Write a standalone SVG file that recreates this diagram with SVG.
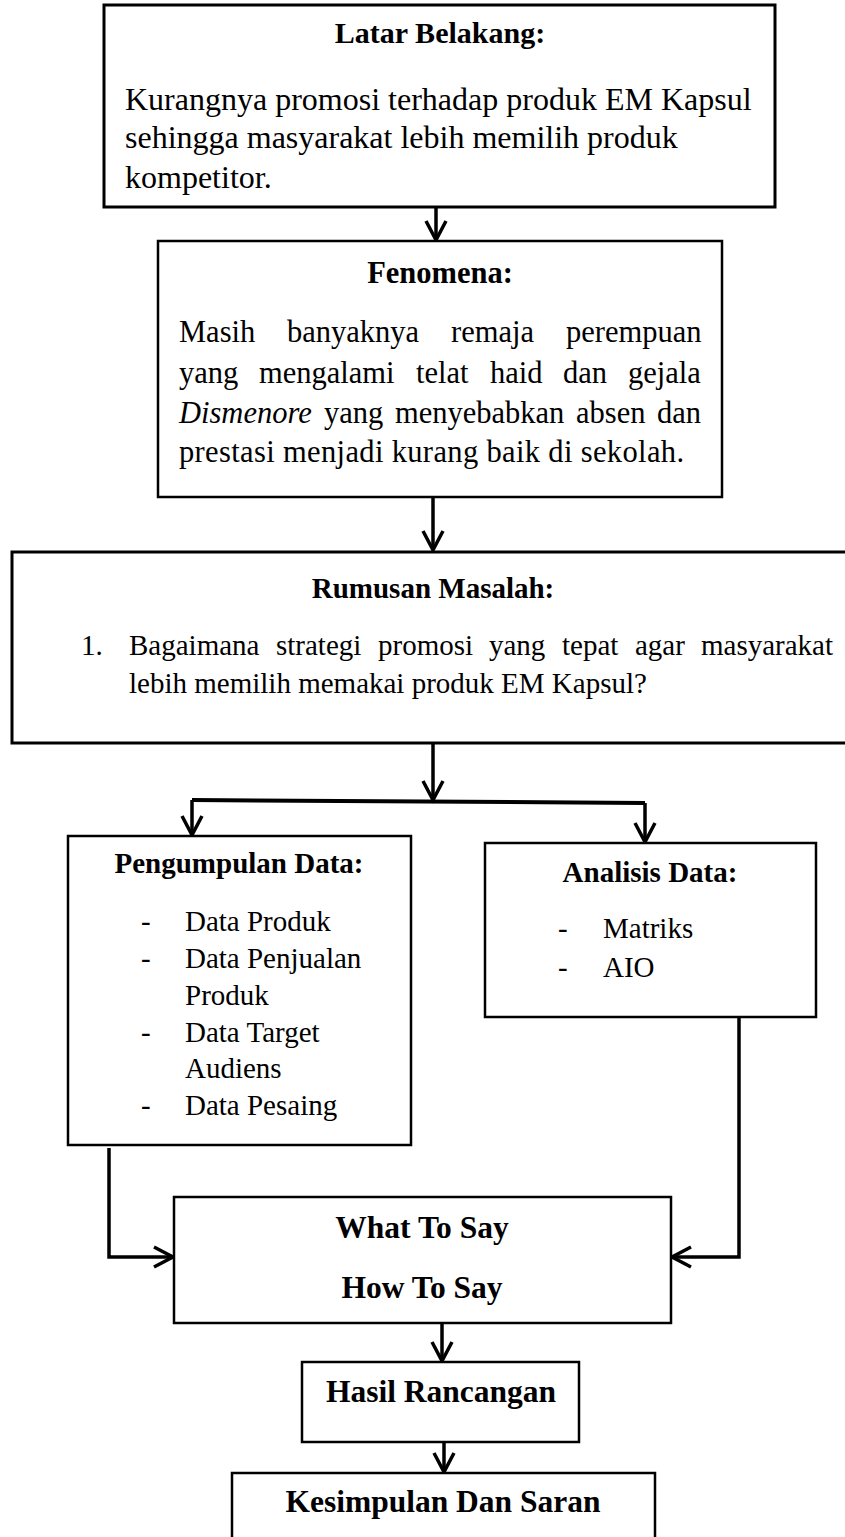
<svg xmlns="http://www.w3.org/2000/svg" width="845" height="1537" viewBox="0 0 845 1537">
<style>
.box{fill:#fff;stroke:#000;stroke-width:2.5}
.t{font-family:"Liberation Serif","Times New Roman",serif;font-size:29px;fill:#000}
.b{font-weight:bold;text-anchor:middle}
.big{font-size:31.5px}
.conn{stroke:#000;stroke-width:3.5;fill:none}
</style>
<defs>
<marker id="ah" viewBox="-22 -12 24 24" refX="0" refY="0" markerWidth="24" markerHeight="24" markerUnits="userSpaceOnUse" orient="auto" overflow="visible">
<path d="M-19,-10 L0,0 L-19,10" fill="none" stroke="#000" stroke-width="3.5"/>
</marker>
</defs>
<rect width="845" height="1537" fill="#fff"/>

<g id="connectors">
<line class="conn" x1="436" y1="207" x2="436" y2="240" marker-end="url(#ah)"/>
<line class="conn" x1="433" y1="497" x2="433" y2="550" marker-end="url(#ah)"/>
<line class="conn" x1="433" y1="743" x2="433" y2="800" marker-end="url(#ah)"/>
<polyline class="conn" points="192,800 645,803" style="stroke-width:4"/>
<line class="conn" x1="192" y1="800" x2="192" y2="835" marker-end="url(#ah)"/>
<line class="conn" x1="645" y1="803" x2="645" y2="842" marker-end="url(#ah)"/>
<polyline class="conn" points="109,1148 109,1257 173,1257" marker-end="url(#ah)"/>
<polyline class="conn" points="739,1011 739,1257 672,1257" marker-end="url(#ah)"/>
<line class="conn" x1="442" y1="1323" x2="442" y2="1361" marker-end="url(#ah)"/>
<line class="conn" x1="444" y1="1442" x2="444" y2="1472" marker-end="url(#ah)"/>
</g>

<g id="latar">
<rect class="box" x="104" y="5" width="671" height="202" style="stroke-width:3"/>
<text class="t b" style="font-size:30px" x="440" y="43">Latar Belakang:</text>
<text class="t" style="font-size:32px" x="125" y="110">Kurangnya promosi terhadap produk EM Kapsul</text>
<text class="t" style="font-size:32px" x="125" y="148">sehingga masyarakat lebih memilih produk</text>
<text class="t" style="font-size:32px" x="125" y="188">kompetitor.</text>
</g>

<g id="fenomena">
<rect class="box" x="158" y="241" width="564" height="256"/>
<text class="t b" style="font-size:30.5px" x="440" y="283">Fenomena:</text>
<g class="t" style="font-size:30.5px">
<text y="342"><tspan x="179">Masih</tspan><tspan x="287">banyaknya</tspan><tspan x="451">remaja</tspan><tspan x="566">perempuan</tspan></text>
<text y="383"><tspan x="179">yang</tspan><tspan x="259">mengalami</tspan><tspan x="416">telat</tspan><tspan x="490">haid</tspan><tspan x="563">dan</tspan><tspan x="628">gejala</tspan></text>
<text y="423"><tspan x="179" font-style="italic">Dismenore</tspan><tspan x="324">yang</tspan><tspan x="395">menyebabkan</tspan><tspan x="576">absen</tspan><tspan x="657">dan</tspan></text>
<text x="179" y="462" textLength="505" lengthAdjust="spacing">prestasi menjadi kurang baik di sekolah.</text>
</g>
</g>

<g id="rumusan">
<rect class="box" x="12" y="552" width="845" height="191" style="stroke-width:3"/>
<text class="t b" x="433" y="598">Rumusan Masalah:</text>
<text class="t" y="655"><tspan x="81">1.</tspan><tspan x="129">Bagaimana</tspan><tspan x="276">strategi</tspan><tspan x="378">promosi</tspan><tspan x="489">yang</tspan><tspan x="562">tepat</tspan><tspan x="635">agar</tspan><tspan x="701">masyarakat</tspan></text>
<text class="t" x="129" y="693">lebih memilih memakai produk EM Kapsul?</text>
</g>

<g id="pengumpulan">
<rect class="box" x="68" y="836" width="343" height="309"/>
<text class="t b" x="239" y="873">Pengumpulan Data:</text>
<text class="t" x="141" y="931">-</text><text class="t" x="185" y="931">Data Produk</text>
<text class="t" x="141" y="968">-</text><text class="t" x="185" y="968">Data Penjualan</text>
<text class="t" x="185" y="1005">Produk</text>
<text class="t" x="141" y="1042">-</text><text class="t" x="185" y="1042">Data Target</text>
<text class="t" x="185" y="1078">Audiens</text>
<text class="t" x="141" y="1115">-</text><text class="t" x="185" y="1115">Data Pesaing</text>
</g>

<g id="analisis">
<rect class="box" x="485" y="843" width="331" height="174"/>
<text class="t b" x="650" y="882">Analisis Data:</text>
<text class="t" x="558" y="938">-</text><text class="t" x="603" y="938">Matriks</text>
<text class="t" x="558" y="977">-</text><text class="t" x="603" y="977">AIO</text>
</g>

<g id="whathow">
<rect class="box" x="174" y="1197" width="497" height="126"/>
<text class="t b big" x="422" y="1238">What To Say</text>
<text class="t b big" x="422" y="1298">How To Say</text>
</g>

<g id="hasil">
<rect class="box" x="302" y="1362" width="277" height="80"/>
<text class="t b big" x="441" y="1402">Hasil Rancangan</text>
</g>

<g id="kesimpulan">
<rect class="box" x="232" y="1473" width="423" height="80"/>
<text class="t b big" x="443" y="1512">Kesimpulan Dan Saran</text>
</g>
</svg>
